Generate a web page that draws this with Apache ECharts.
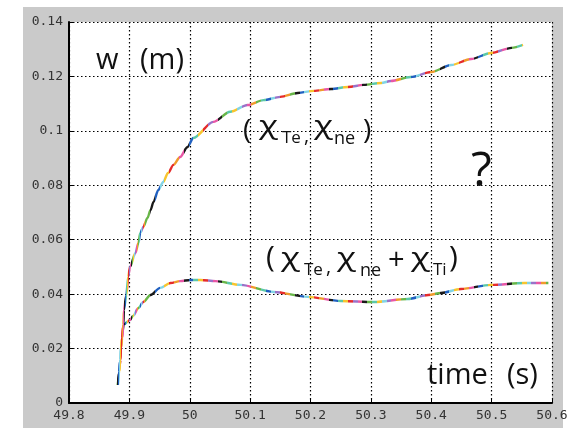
<!DOCTYPE html>
<html><head><meta charset="utf-8">
<script src="https://cdn.jsdelivr.net/npm/echarts@6/dist/echarts.min.js"></script>
<style>html,body{margin:0;padding:0;background:#fff}#c{width:571px;height:428px}</style>
</head><body><div id="c"></div>
<script>
// time (s)
const upperT = [49.881,49.883,49.885,49.886,49.888,49.890,49.891,49.895,49.898,49.901,49.910,49.915,49.918,49.923,49.930,49.935,49.940,49.948,49.956,49.964,49.973,49.984,49.996,50.006,50.039,50.067,50.096,50.122,50.150,50.179,50.205,50.234,50.262,50.288,50.317,50.333,50.366,50.400,50.433,50.466,50.499,50.533,50.552];
// w (m), (chi_Te, chi_ne)
const upperW = [0.0066,0.0114,0.0158,0.0202,0.0239,0.0287,0.0342,0.0397,0.0463,0.0500,0.0551,0.0588,0.0625,0.0647,0.0680,0.0709,0.0739,0.0783,0.0812,0.0845,0.0875,0.0904,0.0940,0.0974,0.1033,0.1070,0.1095,0.1113,0.1125,0.1139,0.1147,0.1154,0.1161,0.1169,0.1176,0.1183,0.1198,0.1216,0.1242,0.1264,0.1286,0.1305,0.1316];
const lowerT = [49.881,49.883,49.885,49.886,49.888,49.890,49.901,49.906,49.915,49.923,49.935,49.951,49.968,49.984,50.001,50.018,50.043,50.084,50.139,50.195,50.250,50.305,50.361,50.395,50.416,50.449,50.499,50.554,50.594];
// w (m), (chi_Te, chi_ne + chi_Ti)
const lowerW = [0.0066,0.0114,0.0158,0.0202,0.0239,0.0287,0.0305,0.0320,0.0349,0.0371,0.0397,0.0423,0.0441,0.0448,0.0452,0.0452,0.0448,0.0434,0.0408,0.0390,0.0375,0.0371,0.0382,0.0397,0.0404,0.0419,0.0434,0.0441,0.0441];
const xTicks = [49.8,49.9,50,50.1,50.2,50.3,50.4,50.5,50.6];
const yTicks = [0,0.02,0.04,0.06,0.08,0.1,0.12,0.14];

const palette = ['#2060c0','#e52b2b','#1a1a1a','#f7c52f','#e857a6','#5cc8a8','#9a72c8','#68b548','#82d4e4','#f09a2c'];
const pieces = [];
let k = 0;
for (let t = 49.87; t < 50.61; k++) {
  const step = t < 49.925 ? 0.0016 : 0.008;
  pieces.push({gte: t, lt: t + step, color: palette[(k * 7 + (k % 3)) % palette.length]});
  t += step;
}

const FONT = '"Open Sans"';
function txt(x, y, s, size, extra) {
  return Object.assign({type: 'text', x: x, y: y, z: 100, silent: true,
    style: {text: s, font: size + 'px ' + FONT, fill: '#111', align: 'left', verticalAlign: 'middle'}}, extra || {});
}
const chiOpt = {scaleX: 1.35};
const labels = [
  txt(96, 61, 'w', 29), txt(140, 61, '(m)', 29),
  txt(427, 376, 'time', 29), txt(507, 376, '(s)', 29),
  txt(471, 172, '?', 48),
  // (chi_Te, chi_ne)
  txt(243, 131, '(', 28), txt(259, 127, 'χ', 26, chiOpt), txt(282, 138, 'Te', 17), txt(304, 136, ',', 20),
  txt(314, 127, 'χ', 26, chiOpt), txt(334, 139, 'ne', 18), txt(363, 131, ')', 28),
  // (chi_Te, chi_ne + chi_Ti)
  txt(266, 258, '(', 30), txt(281, 259, 'χ', 26, chiOpt), txt(304, 270, 'Te', 17), txt(326, 267, ',', 20),
  txt(337, 259, 'χ', 26, chiOpt), txt(360, 271, 'ne', 18), txt(388, 261, '+', 29),
  txt(411, 259, 'χ', 26, chiOpt), txt(433, 270, 'Ti', 17), txt(449, 258, ')', 30)
];

const chart = echarts.init(document.getElementById('c'));
const dotted = {show: true, lineStyle: {color: '#000', width: 1.2, type: [1.5, 2.5]}};
const tickFont = 'DejaVu Sans Mono';
chart.setOption({
  animation: false,
  backgroundColor: '#fff',
  graphic: [
    {type: 'rect', z: -10, shape: {x: 23, y: 7, width: 540, height: 421}, style: {fill: '#cacaca'}, silent: true},
    {type: 'rect', z: -9, shape: {x: 69, y: 22, width: 483, height: 381}, style: {fill: '#fff'}, silent: true}
  ].concat(labels),
  grid: {left: 69, right: 19, top: 22, bottom: 25, containLabel: false, show: false},
  xAxis: {
    type: 'value', min: 49.8, max: 50.6, interval: 0.1,
    axisLine: {show: true, onZero: false, lineStyle: {color: '#000', width: 2}},
    axisTick: {show: true, inside: true, length: 4, lineStyle: {color: '#000'}},
    axisLabel: {color: '#333', fontFamily: tickFont, fontSize: 13, margin: 6,
      formatter: v => { const m = xTicks.find(t => Math.abs(t - v) < 1e-6); return m === undefined ? '' : String(m); }},
    splitLine: dotted
  },
  yAxis: {
    type: 'value', min: 0, max: 0.14, interval: 0.02,
    axisLine: {show: true, onZero: false, lineStyle: {color: '#000', width: 2}},
    axisTick: {show: true, inside: true, length: 4, lineStyle: {color: '#000'}},
    axisLabel: {color: '#333', fontFamily: tickFont, fontSize: 13, margin: 6,
      formatter: v => { const m = yTicks.find(t => Math.abs(t - v) < 1e-9); return m === undefined ? '' : String(m); }},
    splitLine: dotted
  },
  visualMap: {show: false, type: 'piecewise', dimension: 0, seriesIndex: [0, 1], pieces: pieces},
  series: [
    {type: 'line', data: upperT.map((t, i) => [t, upperW[i]]), showSymbol: false, smooth: 0.3, smoothMonotone: 'x', lineStyle: {width: 2.4}},
    {type: 'line', data: lowerT.map((t, i) => [t, lowerW[i]]), showSymbol: false, smooth: 0.3, smoothMonotone: 'x', lineStyle: {width: 2.4}}
  ]
});
</script></body></html>
